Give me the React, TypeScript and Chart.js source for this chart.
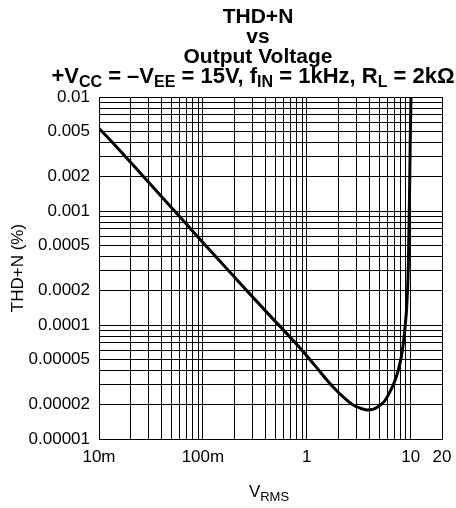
import React, { useEffect, useRef } from "react";
import { Chart, registerables } from "chart.js";

Chart.register(...registerables);

const FONT = '"Liberation Sans", Arial, Helvetica, sans-serif';

// Output voltage (V rms) and THD+N (%)
const vrms = [0.01, 0.0128, 0.0213, 0.0387, 0.07, 0.1, 0.2, 0.4, 0.86, 1.2, 1.79, 2.79, 3.3, 3.77, 4.3, 4.84, 5.6, 6.32, 7.0, 7.6, 8.1, 8.49, 8.9, 9.15, 9.48, 9.7, 9.9, 10.05];
const thdn = [0.0053, 0.0042, 0.00253, 0.00138, 0.00076, 0.00053, 0.000265, 0.000133, 0.0000628, 0.000044, 0.0000286, 0.0000199, 0.0000186, 0.000018, 0.0000182, 0.0000192, 0.0000215, 0.000026, 0.000032, 0.0000403, 0.000052, 0.000069, 0.000105, 0.000145, 0.000325, 0.00109, 0.0042, 0.01];

const xMin = 0.01;
const xMax = 20;
const yMin = 0.00001;
const yMax = 0.01;

const xTickValues = [0.01, 0.1, 1, 10, 20];
const xTickLabels = ["10m", "100m", "1", "10", "20"];
const yTickValues = [0.00001, 0.00002, 0.00005, 0.0001, 0.0002, 0.0005, 0.001, 0.002, 0.005, 0.01];
const yTickLabels = ["0.00001", "0.00002", "0.00005", "0.0001", "0.0002", "0.0005", "0.001", "0.002", "0.005", "0.01"];

const titleLines = ["THD+N", "vs", "Output Voltage"];
const conditionParts: [string, boolean][] = [
  ["+V", false], ["CC", true], [" = \u2013V", false], ["EE", true],
  [" = 15V, f", false], ["IN", true], [" = 1kHz, R", false], ["L", true], [" = 2k\u03A9", false],
];
const xTitleParts: [string, boolean][] = [["V", false], ["RMS", true]];
const yTitle = "THD+N (%)";

function gridValues(min: number, max: number): number[] {
  const out: number[] = [];
  const e0 = Math.floor(Math.log10(min) + 1e-9);
  const e1 = Math.ceil(Math.log10(max) - 1e-9);
  for (let e = e0; e <= e1; e++) {
    for (let m = 1; m <= 9; m++) {
      const v = parseFloat((m * Math.pow(10, e)).toPrecision(6));
      if (v >= min * (1 - 1e-9) && v <= max * (1 + 1e-9)) out.push(v);
    }
  }
  return out;
}

function labelFor(value: number, values: number[], labels: string[]): string {
  const i = values.findIndex((v) => Math.abs(Math.log10(v / value)) < 1e-6);
  return i >= 0 ? labels[i] : "";
}

function drawParts(
  ctx: CanvasRenderingContext2D,
  parts: [string, boolean][],
  cx: number,
  baseline: number,
  mainFont: string,
  subFont: string,
  subShift: number
) {
  let total = 0;
  const widths = parts.map(([t, sub]) => {
    ctx.font = sub ? subFont : mainFont;
    const w = ctx.measureText(t).width;
    total += w;
    return w;
  });
  let x = cx - total / 2;
  ctx.textAlign = "left";
  ctx.textBaseline = "alphabetic";
  parts.forEach(([t, sub], i) => {
    ctx.font = sub ? subFont : mainFont;
    ctx.fillText(t, x, sub ? baseline + subShift : baseline);
    x += widths[i];
  });
}

const textPlugin = {
  id: "customTexts",
  afterDraw(chart: any) {
    const ctx: CanvasRenderingContext2D = chart.ctx;
    ctx.save();
    ctx.fillStyle = "#000";
    ctx.textAlign = "center";
    ctx.textBaseline = "alphabetic";
    ctx.font = `bold 21px ${FONT}`;
    titleLines.forEach((t, i) => ctx.fillText(t, 258, 23 + i * 20));
    drawParts(ctx, conditionParts, 253, 83, `bold 22px ${FONT}`, `bold 16px ${FONT}`, 4);
    drawParts(ctx, xTitleParts, 269, 497, `17px ${FONT}`, `13px ${FONT}`, 4);
    ctx.restore();
  },
};

export default function App() {
  const ref = useRef<HTMLCanvasElement | null>(null);

  useEffect(() => {
    if (!ref.current) return;
    const points = vrms.map((v, i) => ({ x: v, y: thdn[i] }));
    const chart = new Chart(ref.current, {
      type: "line",
      data: {
        datasets: [
          {
            data: points,
            borderColor: "#000",
            borderWidth: 3,
            pointRadius: 0,
            fill: false,
            cubicInterpolationMode: "monotone",
          },
        ],
      },
      options: {
        responsive: false,
        animation: false,
        layout: { padding: { top: 97, right: 14, bottom: 0, left: 0 } },
        plugins: {
          legend: { display: false },
          tooltip: { enabled: false },
          title: { display: false },
        },
        scales: {
          x: {
            type: "logarithmic",
            min: xMin,
            max: xMax,
            afterBuildTicks: (scale: any) => {
              scale.ticks = gridValues(xMin, xMax).map((v) => ({ value: v }));
            },
            afterFit: (scale: any) => {
              scale.height = 69;
              scale.paddingLeft = 0;
              scale.paddingRight = 0;
            },
            grid: { color: "#000", lineWidth: 1, drawTicks: false },
            border: { color: "#000", width: 1 },
            ticks: {
              autoSkip: false,
              maxRotation: 0,
              padding: 8,
              color: "#000",
              font: { family: FONT, size: 17 },
              callback: (value: any) => labelFor(Number(value), xTickValues, xTickLabels),
            },
          },
          y: {
            type: "logarithmic",
            min: yMin,
            max: yMax,
            afterBuildTicks: (scale: any) => {
              scale.ticks = gridValues(yMin, yMax).map((v) => ({ value: v }));
            },
            afterFit: (scale: any) => {
              scale.width = 99;
              scale.paddingTop = 0;
              scale.paddingBottom = 0;
            },
            grid: { color: "#000", lineWidth: 1, drawTicks: false },
            border: { color: "#000", width: 1 },
            title: {
              display: true,
              text: yTitle,
              color: "#000",
              font: { family: FONT, size: 17 },
              padding: { top: 8, bottom: 0 },
            },
            ticks: {
              autoSkip: false,
              padding: 9,
              color: "#000",
              font: { family: FONT, size: 17 },
              callback: (value: any) => labelFor(Number(value), yTickValues, yTickLabels),
            },
          },
        },
      },
      plugins: [textPlugin],
    } as any);
    return () => chart.destroy();
  }, []);

  return (
    <div style={{ position: "fixed", left: 0, top: 0, width: 456, height: 508, background: "#fff" }}>
      <canvas ref={ref} width={456} height={508} />
    </div>
  );
}
